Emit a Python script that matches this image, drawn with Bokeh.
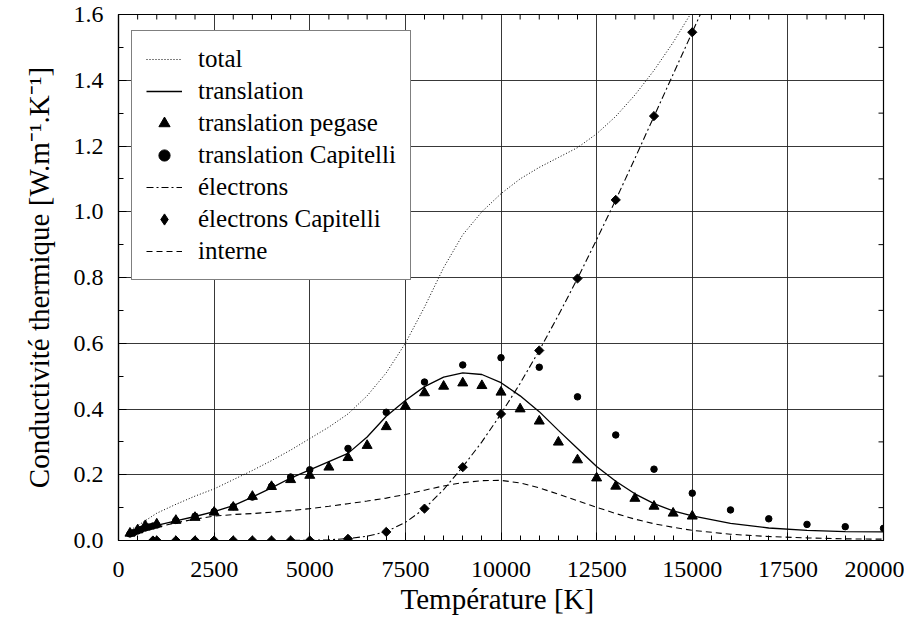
import numpy as np
from bokeh.plotting import figure
from bokeh.models import (Range1d, FixedTicker, PrintfTickFormatter,
                          Legend, LegendItem)
from bokeh.embed import file_html
from bokeh.resources import INLINE

# ---------------- data ----------------
x_ticks = [0, 2500, 5000, 7500, 10000, 12500, 15000, 17500, 20000]
x_minor = list(range(0, 20001, 500))
y_ticks = [0.0, 0.2, 0.4, 0.6, 0.8, 1.0, 1.2, 1.4, 1.6]
y_minor = [i / 10 for i in range(17)]

T_total = [250, 500, 1000, 1500, 2000, 2500, 3000, 3500, 4000, 4500, 5000, 5500,
           6000, 6500, 7000, 7500, 8000, 8500, 9000, 9500, 10000, 10500, 11000,
           11500, 12000, 12500, 13000, 13500, 14000, 14500, 15000, 15500]
k_total = [0.028, 0.045, 0.083, 0.110, 0.135, 0.157, 0.185, 0.213, 0.243, 0.275,
           0.310, 0.345, 0.385, 0.440, 0.510, 0.600, 0.710, 0.830, 0.930, 1.000,
           1.055, 1.100, 1.135, 1.165, 1.195, 1.237, 1.290, 1.355, 1.430, 1.515,
           1.610, 1.710]

T_trans = [250, 500, 1000, 1500, 2000, 2500, 3000, 3500, 4000, 4500, 5000, 5500,
           6000, 6500, 7000, 7500, 8000, 8500, 9000, 9500, 10000, 10500, 11000,
           11500, 12000, 12500, 13000, 13500, 14000, 14500, 15000, 16000, 17000,
           18000, 19000, 20000]
k_trans = [0.020, 0.030, 0.046, 0.060, 0.073, 0.088, 0.106, 0.132, 0.160, 0.190,
           0.215, 0.240, 0.265, 0.315, 0.378, 0.426, 0.468, 0.497, 0.510, 0.505,
           0.480, 0.440, 0.392, 0.335, 0.280, 0.225, 0.180, 0.142, 0.112, 0.090,
           0.075, 0.052, 0.038, 0.031, 0.027, 0.026]

T_pegase = [300, 500, 700, 1000, 1500, 2000, 2500, 3000, 3500, 4000, 4500, 5000,
            5500, 6000, 6500, 7000, 7500, 8000, 8500, 9000, 9500, 10000, 10500,
            11000, 11500, 12000, 12500, 13000, 13500, 14000, 14500, 15000]
k_pegase = [0.022, 0.032, 0.045, 0.050, 0.061, 0.070, 0.086, 0.101, 0.134, 0.164,
            0.185, 0.198, 0.223, 0.252, 0.289, 0.346, 0.408, 0.449, 0.469, 0.479,
            0.471, 0.451, 0.400, 0.363, 0.299, 0.245, 0.190, 0.165, 0.128, 0.104,
            0.083, 0.074]

T_capi = [300, 400, 500, 600, 700, 800, 900, 1000, 1500, 2000, 2500, 3000, 3500,
          4000, 4500, 5000, 6000, 7000, 8000, 9000, 10000, 11000, 12000, 13000,
          14000, 15000, 16000, 17000, 18000, 19000, 20000]
k_capi = [0.020, 0.024, 0.029, 0.034, 0.038, 0.041, 0.044, 0.047, 0.061, 0.074,
          0.088, 0.103, 0.132, 0.165, 0.193, 0.215, 0.280, 0.390, 0.482, 0.534,
          0.556, 0.527, 0.437, 0.321, 0.217, 0.144, 0.093, 0.066, 0.049, 0.042,
          0.037]

T_elec = [250, 1000, 2000, 3000, 4000, 5000, 5500, 6000, 6500, 7000, 7500, 8000,
          8500, 9000, 9500, 10000, 10500, 11000, 11500, 12000, 12500, 13000, 13500,
          14000, 14500, 15000, 15500]
k_elec = [0.0, 0.0, 0.0, 0.0, 0.0, 0.0005, 0.002, 0.006, 0.013, 0.027, 0.055,
          0.097, 0.155, 0.224, 0.300, 0.385, 0.478, 0.578, 0.685, 0.797, 0.915,
          1.036, 1.162, 1.290, 1.418, 1.546, 1.674]

T_elec_capi = [900, 1000, 1500, 2000, 2500, 3000, 3500, 4000, 4500, 5000, 6000,
               7000, 8000, 9000, 10000, 11000, 12000, 13000, 14000, 15000]
k_elec_capi = [0.0, 0.0, 0.0, 0.0, 0.0, 0.0, 0.0, 0.0, 0.0, 0.0, 0.005, 0.026,
               0.097, 0.223, 0.385, 0.578, 0.797, 1.036, 1.291, 1.546]

T_int = [250, 500, 1000, 1500, 2000, 2500, 3000, 3500, 4000, 4500, 5000, 5500,
         6000, 6500, 7000, 7500, 8000, 8500, 9000, 9500, 10000, 10500, 11000,
         11500, 12000, 12500, 13000, 13500, 14000, 14500, 15000, 16000, 17000,
         18000, 19000, 20000]
k_int = [0.012, 0.022, 0.040, 0.054, 0.065, 0.074, 0.079, 0.082, 0.086, 0.091,
         0.097, 0.104, 0.112, 0.120, 0.129, 0.140, 0.153, 0.166, 0.176, 0.182,
         0.183, 0.175, 0.160, 0.141, 0.121, 0.101, 0.082, 0.065, 0.051, 0.040,
         0.031, 0.019, 0.012, 0.008, 0.005, 0.004]

labels = ["total", "translation", "translation pegase", "translation Capitelli",
          "électrons", "électrons Capitelli", "interne"]

# ---------------- figure ----------------
FONT = "Liberation Serif"
X0, X1 = x_ticks[0], x_ticks[-1]
Y0, Y1 = y_ticks[0], y_ticks[-1]

p = figure(width=904, height=627, output_backend="svg", toolbar_location=None,
           x_range=Range1d(X0, X1), y_range=Range1d(Y0, Y1),
           min_border_left=118, min_border_right=21, min_border_top=14,
           min_border_bottom=87)
p.background_fill_color = "white"
p.border_fill_color = "white"
p.outline_line_color = "black"
p.outline_line_width = 1.2

xt = FixedTicker(ticks=x_ticks, minor_ticks=x_minor)
yt = FixedTicker(ticks=y_ticks, minor_ticks=y_minor)

for ax in (p.xaxis[0], p.yaxis[0]):
    ax.axis_line_color = "black"
    ax.axis_line_width = 1.2
    ax.major_tick_in = 8
    ax.major_tick_out = 0
    ax.minor_tick_in = 5
    ax.minor_tick_out = 0
    ax.major_tick_line_color = "black"
    ax.minor_tick_line_color = "black"
    ax.major_label_text_font = FONT
    ax.major_label_text_font_size = "24px"
    ax.major_label_text_color = "black"
    ax.axis_label_text_font = FONT
    ax.axis_label_text_font_size = "29px"
    ax.axis_label_text_font_style = "normal"
    ax.axis_label_text_color = "black"

p.xaxis.ticker = xt
p.yaxis.ticker = yt
p.xaxis.formatter = PrintfTickFormatter(format="%d")
p.yaxis.formatter = PrintfTickFormatter(format="%.1f")
p.xaxis.major_label_standoff = 21
p.yaxis.major_label_standoff = 15
p.xaxis.axis_label = "Température  [K]"
p.yaxis.axis_label = "Conductivité thermique [W.m⁻¹.K⁻¹]"
p.xaxis.axis_label_standoff = 3
p.yaxis.axis_label_standoff = 16

p.xgrid.ticker = xt
p.ygrid.ticker = yt
for g in (p.xgrid[0], p.ygrid[0]):
    g.grid_line_color = "#222222"
    g.grid_line_width = 1
    g.grid_line_alpha = 0.9

# mirrored inward minor ticks on the top and right edges (half of each dash is
# clipped away by the frame, leaving an inward tick)
top_minor = [t for t in x_minor if t not in x_ticks]
right_minor = [t for t in y_minor if all(abs(t - m) > 1e-9 for m in y_ticks)]
p.scatter(top_minor, [Y1] * len(top_minor), marker="dash", angle=np.pi / 2,
          size=10, line_color="black", line_width=1)
p.scatter([X1] * len(right_minor), right_minor, marker="dash", size=10,
          line_color="black", line_width=1)

# ---------------- glyphs ----------------
r_total = p.line(T_total, k_total, line_color="black", line_width=1,
                 line_dash="1 2")
r_trans = p.line(T_trans, k_trans, line_color="black", line_width=1.3)
r_peg = p.scatter(T_pegase, k_pegase, marker="triangle", size=10,
                  color="black")
r_capi = p.scatter(T_capi, k_capi, marker="circle", size=6.5, color="black")
r_elec = p.line(T_elec, k_elec, line_color="black", line_width=1.1,
                line_dash="7 3 2 3")
p.scatter(T_elec_capi, k_elec_capi, marker="square", size=6.5,
          angle=np.pi / 4, color="black")
# legend-only sample for the diamond markers
r_ecapi = p.scatter([np.nan], [np.nan], marker="diamond", size=10,
                    color="black")
r_int = p.line(T_int, k_int, line_color="black", line_width=1.1,
               line_dash="6 4")

renderers = [r_total, r_trans, r_peg, r_capi, r_elec, r_ecapi, r_int]
legend = Legend(items=[LegendItem(label=l, renderers=[r])
                       for l, r in zip(labels, renderers)],
                location=(13, 260))
legend.margin = 0
legend.padding = 14
legend.spacing = 4
legend.glyph_width = 36
legend.glyph_height = 28
legend.label_height = 28
legend.label_standoff = 16
legend.label_text_font = FONT
legend.label_text_font_size = "25px"
legend.label_text_color = "black"
legend.border_line_color = "black"
legend.border_line_width = 1.2
legend.background_fill_color = "white"
legend.background_fill_alpha = 1.0
p.add_layout(legend)

open("out.html", "w").write(file_html(p, INLINE))
